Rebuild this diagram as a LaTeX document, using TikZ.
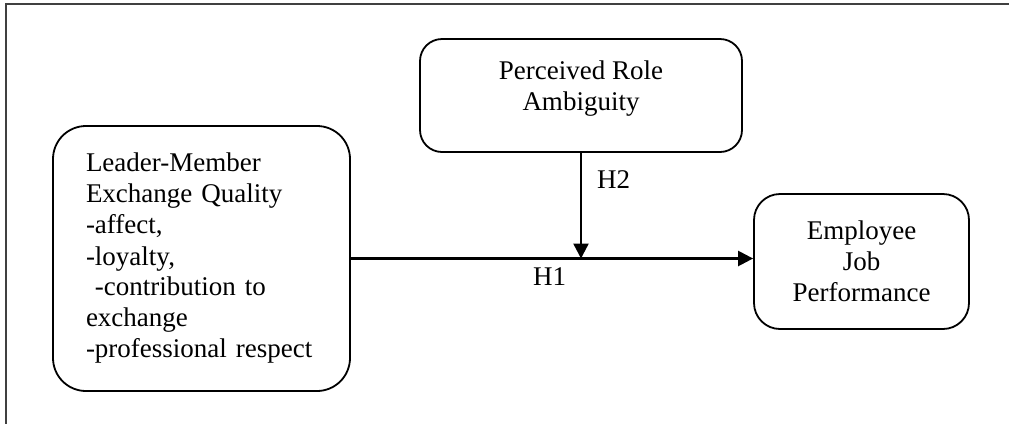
\documentclass[tikz,border=0pt]{standalone}
\usepackage{fontspec}
\setmainfont{Liberation Serif}
\usetikzlibrary{arrows.meta}

\begin{document}
\begin{tikzpicture}[x=1pt,y=-1pt,
    box/.style={draw,line width=1.8pt,inner sep=0pt,font=\fontsize{27}{31}\selectfont},
    link/.style={line width=2.4pt,-{Triangle[length=15pt,width=15pt]}},
    hyp/.style={font=\fontsize{27}{31}\selectfont,inner sep=0pt,anchor=base west}]
    \useasboundingbox (0,0) rectangle (1009,424);
    %рамка
    \draw[line width=1.5pt,black!75] (1009,4) -- (6,4) -- (6,424);
    %блоки
    \node[box,rounded corners=33pt,minimum width=297pt,minimum height=265pt,
          text width=231pt,align=left] (lmx) at (201.5,258.5)
          {Leader-Member\\Exchange Quality\\-affect,\\-loyalty,\\\ -contribution to\\exchange\\-professional respect};
    \node[box,rounded corners=22pt,minimum width=322pt,minimum height=113pt,align=center]
          (ambig) at (581,95.5) {Perceived Role\\Ambiguity\\[-11pt]\mbox{}};
    \node[box,rounded corners=26pt,minimum width=215pt,minimum height=135pt,align=center]
          (perf) at (861.5,261.5) {Employee\\Job\\Performance};
    %стрелки
    \coordinate (J) at (ambig.south |- lmx.east);
    \draw[link] (lmx.east) -- (lmx.east -| perf.west);
    \draw[link] (ambig.south) -- (J);
    \node[hyp] (h2) at (597,188) {H2};
    \node[hyp] (h1) at (533,285) {H1};
\end{tikzpicture}
\end{document}
